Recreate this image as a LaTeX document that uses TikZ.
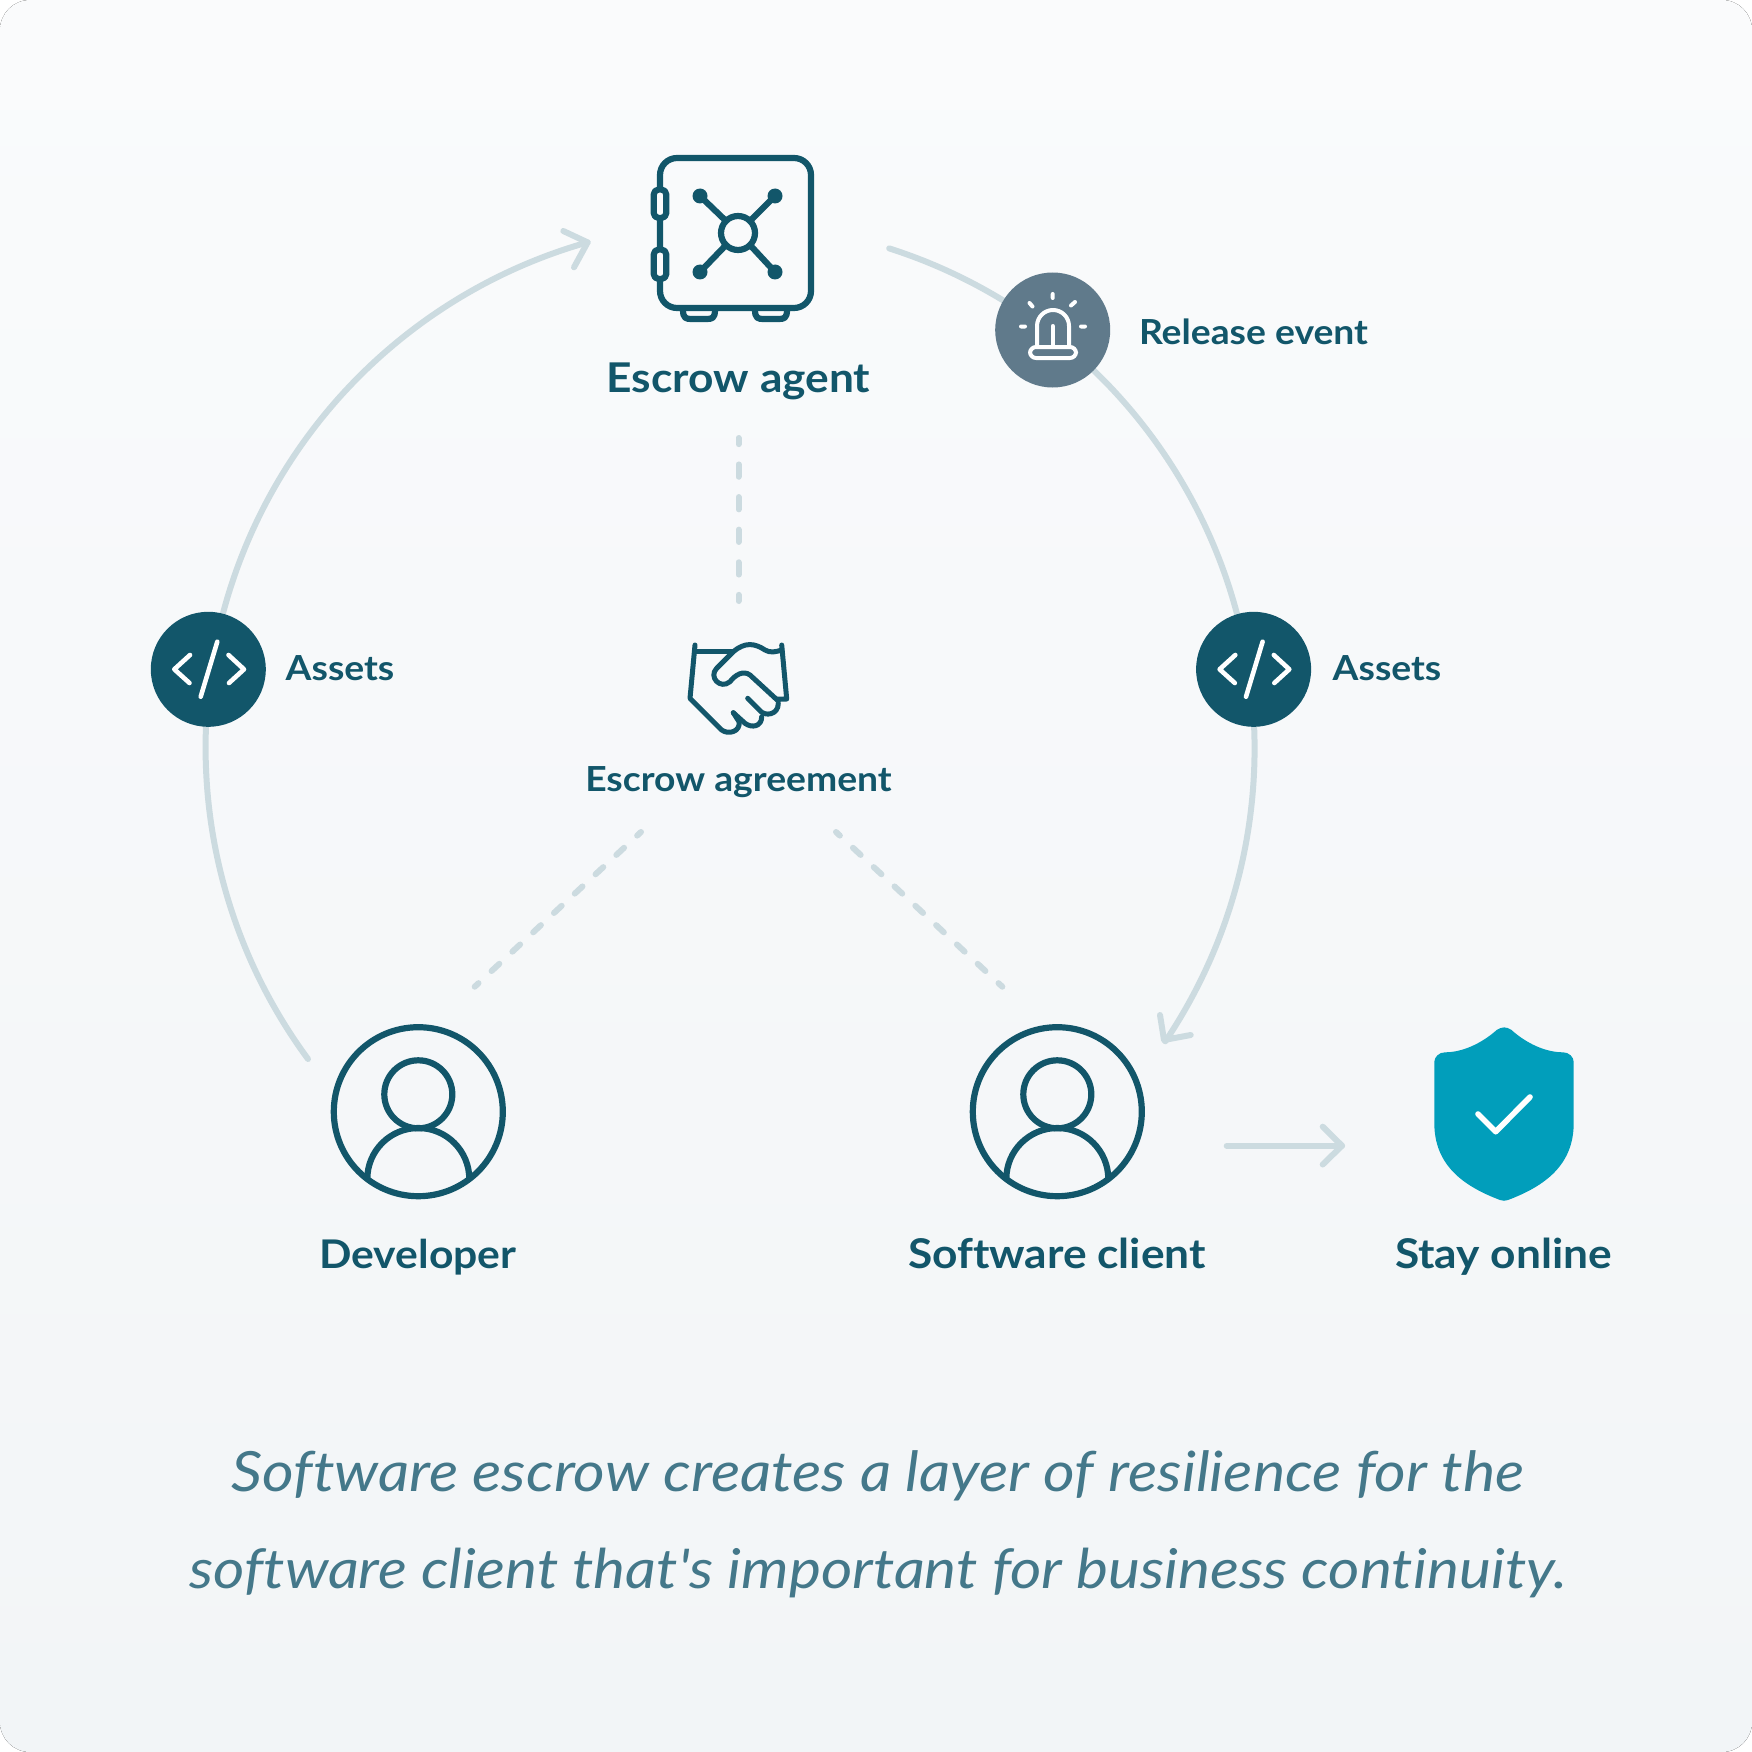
\documentclass[tikz,border=0pt]{standalone}
\usepackage{fontspec}
\setmainfont{Lato}
\newfontfamily\bigfont[FakeStretch=1.08,Ligatures=NoCommon,BoldFont={Lato Bold}]{Lato}
\newfontfamily\capfont[FakeStretch=1.1,Ligatures=NoCommon,ItalicFont={Lato Italic}]{Lato}
\usetikzlibrary{calc}
\definecolor{ink}{HTML}{12566A}
\definecolor{pale}{HTML}{CCDBE0}
\definecolor{alarm}{HTML}{607A8B}
\definecolor{teal}{HTML}{019EBB}
\definecolor{cap}{HTML}{44788A}
\definecolor{bgtop}{HTML}{FAFBFC}
\definecolor{bgbot}{HTML}{F2F5F7}
\tikzset{
 x=1pt,y=-1pt,
 flow/.style={draw=pale,line width=6pt,line cap=round,line join=round},
 vdash/.style={draw=pale,line width=6pt,line cap=round,dash pattern=on 12.3pt off 20.3pt,dash phase=6.15pt},
 ddash/.style={draw=pale,line width=6pt,line cap=round,dash pattern=on 10.5pt off 17.9pt,dash phase=5.25pt},
 icon/.style={draw=ink,line width=6.2pt,line cap=round,line join=round},
 hand/.style={draw=ink,line width=5pt,line cap=round,line join=round},
 white icon/.style={draw=white,line width=4.6pt,line cap=round,line join=round},
 disc/.style={circle,minimum size=115pt,inner sep=0pt,draw=none},
 big/.style={text=ink,font=\bigfont\fontsize{41}{48}\selectfont\bfseries,inner sep=0pt,anchor=base},
 small/.style={text=ink,font=\bigfont\fontsize{34.5}{40}\selectfont\bfseries,inner sep=0pt,anchor=base},
 caption/.style={text=cap,font=\capfont\fontsize{55.5}{64}\selectfont\itshape,inner sep=0pt,anchor=base},
}
\begin{document}
\begin{tikzpicture}
\useasboundingbox (0,0) rectangle (1752,1752);
\fill[white] (0,0) rectangle (1752,1752);
\fill[rounded corners=30pt,top color=bgtop,bottom color=bgbot] (0,0) rectangle (1752,1752);
% arcs
\coordinate (la) at (308,1059);
\coordinate (lt) at (587.6,242.4);
\coordinate (ra) at (889.2,248.4);
\coordinate (rt) at (1164,1040);
\path[flow] (la) arc[start angle=143.6,end angle=254.2,radius=525];
\path[flow] (563.3,231) -- (lt) -- (574,267.3);
\path[flow] (ra) arc[start angle=-72.3,end angle=33.9,radius=525];
\path[flow] (1160,1015) -- (rt) -- (1190.7,1035);
% dashed
\coordinate (d1) at (738.5,438);
\coordinate (d2) at (738.5,601);
\path[vdash] (d1) -- (d2);
\coordinate (d3) at (641,832);
\coordinate (d4) at (474.7,986.7);
\path[ddash] (d3) -- (d4);
\coordinate (d5) at (836,832);
\coordinate (d6) at (1002.3,986.7);
\path[ddash] (d5) -- (d6);
% arrow to shield
\coordinate (s1) at (1226.7,1145.7);
\coordinate (s2) at (1342,1145.7);
\path[flow] (s1) -- (s2);
\path[flow] (1322.7,1126.7) -- (s2) -- (1322.7,1164.5);
% safe
\draw[icon,rounded corners=17pt] (660,158) rectangle (811,308);
\draw[icon,fill=bgtop,rounded corners=5pt] (653.7,189.5) rectangle (666.3,218);
\draw[icon,fill=bgtop,rounded corners=5pt] (653.7,249.5) rectangle (666.3,279);
\draw[icon] (683,310) .. controls (683,318) and (686,319) .. (691,319) -- (707,319) .. controls (712,319) and (715,318) .. (715,310);
\draw[icon] (755,310) .. controls (755,318) and (758,319) .. (763,319) -- (779,319) .. controls (784,319) and (787,318) .. (787,310);
\draw[icon] (738,233) circle (17);
\draw[icon] (700,196) -- (726,221) (775,196) -- (750,221) (700,272) -- (726,245) (775,272) -- (750,245);
\fill[ink] (700,196) circle (7.5) (775,196) circle (7.5) (700,272) circle (7.5) (775,272) circle (7.5);
% alarm
\node[disc,fill=alarm] (alarm) at (1052.7,330) {};
\begin{scope}[white icon/.append style={line width=4pt}]
\draw[white icon] (1037,347) -- (1037,326) arc[start angle=180,end angle=360,radius=16] -- (1069,347);
\draw[white icon,rounded corners=6pt] (1030,347) rectangle (1076,358);
\draw[white icon] (1052.7,326) -- (1052.7,347);
\draw[white icon] (1052.7,294) -- (1052.7,298) (1021,326.5) -- (1025,326.5) (1081,326.5) -- (1085,326.5) (1029.5,303) -- (1032.5,306.5) (1075,302) -- (1071,305.5);
\end{scope}
% assets
\foreach \n/\dx in {ca/0,cb/1045.3}{
 \node[disc,fill=ink] (\n) at (208.3+\dx,669.3) {};
 \begin{scope}[xshift=\dx pt]
 \draw[white icon] (190,655) -- (174.3,669.3) -- (189.5,683) (228.5,655) -- (244,669.3) -- (229,683) (217.3,641.7) -- (200.7,696.7);
 \end{scope}
}
% handshake
\draw[hand] (695,645) -- (690,698.3) -- (721.7,730) .. controls (728.3,735) and (740.7,731.7) .. (739,721.7) -- (733.3,712.7);
\draw[hand] (695,651) -- (733.3,651);
\draw[hand] (733.3,712.7) -- (745,723.3) .. controls (751.7,728.3) and (761.7,726.7) .. (761.7,716.7);
\draw[hand] (747.7,698.3) -- (760,710.7) .. controls (765,716.7) and (778.3,715) .. (778.3,703.3);
\draw[hand] (778.3,701) -- (750,675) .. controls (743.3,670) and (735,675) .. (730,681.7)
  .. controls (720,690) and (708.3,676.7) .. (716.7,668.3) -- (733.3,651.7)
  .. controls (745,641.7) and (755,643.3) .. (765,650) .. controls (770,653.3) and (776.7,651.7) .. (781.7,650);
\draw[hand] (781.7,645) -- (786.7,699) -- (777.3,699);
% users
\foreach \n/\dx in {ua/0,ub/639}{
 \begin{scope}[xshift=\dx pt]
 \draw[icon] (418.3,1111.7) circle (84.5);
 \draw[icon] (418.3,1094.3) circle (34);
 \draw[icon,line cap=butt] (367.3,1179) arc[start angle=180,end angle=360,radius=51];
 \end{scope}
}
% shield
\fill[teal] (1496.7,1030) .. controls (1502,1026.5) and (1506.5,1026.5) .. (1511.5,1030)
 .. controls (1526,1043) and (1545,1052.3) .. (1563,1052.3)
 .. controls (1569,1052.3) and (1573.7,1057) .. (1573.7,1062) -- (1573.7,1123)
 .. controls (1573.7,1165) and (1545,1186) .. (1508,1200) .. controls (1505,1201) and (1503,1201) .. (1500,1200)
 .. controls (1463,1186) and (1434.3,1165) .. (1434.3,1123) -- (1434.3,1062)
 .. controls (1434.3,1057) and (1439,1052.3) .. (1445,1052.3)
 .. controls (1463,1052.3) and (1482,1043) .. (1496.7,1030) -- cycle;
\draw[draw=white,line width=5.6pt,line cap=round,line join=round] (1478,1114) -- (1495.7,1131.7) -- (1530,1097);
% labels
\node[big] (t1) at (738.5,392) {Escrow agent};
\node[small] (t2) at (1253.5,344) {Release event};
\node[small] (t3) at (340,680) {Assets};
\node[small] (t4) at (1387,680) {Assets};
\node[small] (t5) at (738.5,791) {Escrow agreement};
\node[big,font=\bigfont\fontsize{39.5}{48}\selectfont\bfseries] (t6) at (418,1268) {Developer};
\node[big] (t7) at (1057,1268) {Software client};
\node[big] (t8) at (1503.5,1268) {Stay online};
\node[caption] (t9) at (878,1491.5) {Software escrow creates a layer of resilience for the};
\node[caption,font=\capfont\fontsize{54.9}{64}\selectfont\itshape] (t10) at (878,1588) {software client that's important for business continuity.};
\end{tikzpicture}
\end{document}
